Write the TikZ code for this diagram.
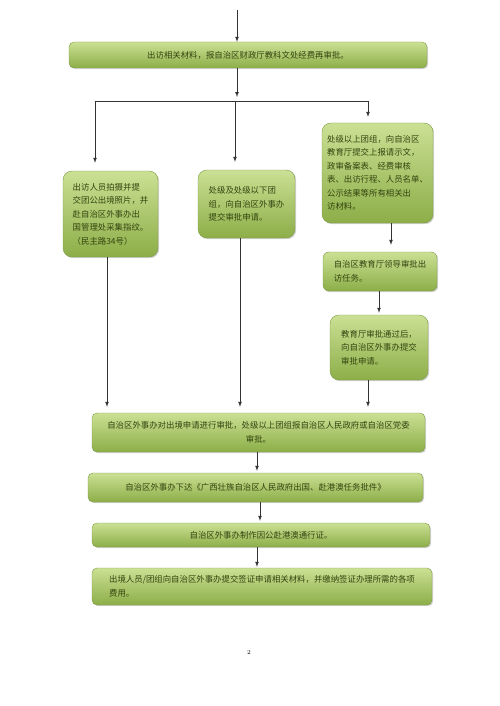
\documentclass[tikz,border=0pt]{standalone}
\usepackage{fontspec}
\newfontfamily\cjk{Noto Sans CJK SC}
\usepackage{xcolor}
\usepackage{tikz}
\usetikzlibrary{positioning, shadows}
\definecolor{boxtop}{HTML}{CBE094}
\definecolor{boxbot}{HTML}{8CAE48}
\definecolor{boxline}{HTML}{7D9B44}
\definecolor{boxtext}{HTML}{33440F}

\begin{document}
\begin{tikzpicture}[x=1pt,y=-1pt]
	\tikzstyle{greenbox}=[draw=boxline, rounded corners=9pt, top color=boxtop, bottom color=boxbot, drop shadow={shadow xshift=1.2pt,shadow yshift=-1.2pt,opacity=0.35}, text=boxtext, font=\cjk\fontsize{8.4}{13.5}\selectfont, inner sep=0pt, align=left]
	\tikzstyle{widebox}=[greenbox, rounded corners=5pt, align=center]
	\tikzstyle{conn}=[draw=black!80, line width=0.7pt, -latex]
	\useasboundingbox (0,0) rectangle (500,706);
	\node[widebox, minimum width=358pt, minimum height=26pt](bao) at (248,55) {出访相关材料，报自治区财政厅教科文处经费再审批。};
	\node[greenbox, minimum width=95pt, minimum height=86pt](chuguo) at (110.5,214) {出访人员拍摄并提\\交团公出境照片，并\\赴自治区外事办出\\国管理处采集指纹。\\（民主路34号）};
	\node[greenbox, minimum width=97pt, minimum height=68pt](chuji) at (246.5,204) {处级及处级以下团\\组，向自治区外事办\\提交审批申请。};
	\node[greenbox, minimum width=111pt, minimum height=100pt](chuyi) at (377.5,173) {处级以上团组，向自治区\\教育厅提交上报请示文，\\政审备案表、经费审核\\表、出访行程、人员名单、\\公示结果等所有相关出\\访材料。};
	\node[greenbox, rounded corners=6pt, minimum width=114pt, minimum height=39pt](lingdao) at (380,271.5) {自治区教育厅领导审批出\\访任务。};
	\node[greenbox, minimum width=98pt, minimum height=65pt](tongguo) at (379,347.5) {教育厅审批通过后，\\向自治区外事办提交\\审批申请。};
	\node[widebox, minimum width=333pt, minimum height=39pt](shenpi) at (258.5,432.5) {自治区外事办对出境申请进行审批，处级以上团组报自治区人民政府或自治区党委\\审批。};
	\node[widebox, minimum width=335pt, minimum height=29pt](pijian) at (255.5,487.5) {自治区外事办下达《广西壮族自治区人民政府出国、赴港澳任务批件》};
	\node[widebox, minimum width=338pt, minimum height=24pt](zhizuo) at (261,535) {自治区外事办制作因公赴港澳通行证。};
	\node[widebox, align=left, minimum width=340pt, minimum height=37pt](qianzheng) at (262,586.5) {出境人员/团组向自治区外事办提交签证申请相关材料，并缴纳签证办理所需的各项\\费用。};
	\node(yema) at (249,652) {\fontsize{6}{7}\selectfont 2};
	% fork under the first box
	\coordinate(start) at (237,10);
	\coordinate(fork) at (237,97);
	\coordinate(forkL) at (95,101);
	\coordinate(forkM) at (235,101);
	\coordinate(forkR) at (368,101);
	\draw[conn](start) -- (start |- bao.north);
	\draw[conn](bao.south -| fork) -- (fork);
	\draw[conn, -](forkL) -- (forkR);
	\draw[conn, shorten >=8pt](forkL) -- (forkL |- chuguo.north);
	\draw[conn, shorten >=8pt](forkM) -- (forkM |- chuji.north);
	\draw[conn, shorten >=6pt](forkR) -- (forkR |- chuyi.north);
	% right column
	\draw[conn, shorten >=7pt]([xshift=13.5pt]chuyi.south) -- ([xshift=13.5pt]chuyi.south |- lingdao.north);
	\draw[conn, shorten >=2pt]([xshift=-1pt]lingdao.south) -- ([xshift=-1pt]lingdao.south |- tongguo.north);
	% into the wide boxes
	\draw[conn, shorten >=6pt]([xshift=-3.5pt]chuguo.south) -- ([xshift=-3.5pt]chuguo.south |- shenpi.north);
	\draw[conn, shorten >=6pt]([xshift=-6.5pt]chuji.south) -- ([xshift=-6.5pt]chuji.south |- shenpi.north);
	\draw[conn, shorten >=6pt]([xshift=-11pt]tongguo.south) -- ([xshift=-11pt]tongguo.south |- shenpi.north);
	\draw[conn, shorten >=2pt]([xshift=-1.5pt]shenpi.south) -- ([xshift=-1.5pt]shenpi.south |- pijian.north);
	\draw[conn, shorten >=2pt]([xshift=4.5pt]pijian.south) -- ([xshift=4.5pt]pijian.south |- zhizuo.north);
	\draw[conn, shorten >=1pt]([xshift=-4pt]zhizuo.south) -- ([xshift=-4pt]zhizuo.south |- qianzheng.north);
\end{tikzpicture}
\end{document}
